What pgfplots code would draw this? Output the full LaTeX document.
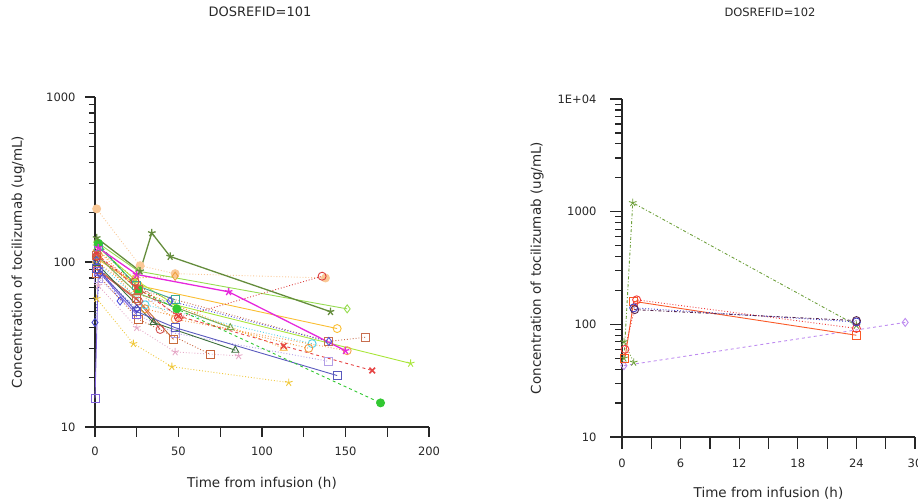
\documentclass[border=0pt]{standalone}
\usepackage{fontspec}
\setmainfont{DejaVu Sans}
\usepackage{pgfplots}
\pgfplotsset{compat=1.18}
\definecolor{txt}{RGB}{40,40,40}
\definecolor{c1}{RGB}{100,140,60}
\definecolor{c2}{RGB}{150,220,80}
\definecolor{c3}{RGB}{240,160,60}
\definecolor{c3b}{RGB}{250,200,150}
\definecolor{c4}{RGB}{220,60,60}
\definecolor{c5}{RGB}{230,40,220}
\definecolor{c6}{RGB}{80,80,220}
\definecolor{c7}{RGB}{200,110,80}
\definecolor{c8}{RGB}{170,230,60}
\definecolor{c9}{RGB}{230,70,70}
\definecolor{c10}{RGB}{90,90,190}
\definecolor{c11}{RGB}{50,200,50}
\definecolor{c12}{RGB}{240,200,60}
\definecolor{c13}{RGB}{200,100,60}
\definecolor{c14}{RGB}{60,110,60}
\definecolor{c15}{RGB}{250,170,40}
\definecolor{c16}{RGB}{240,150,60}
\definecolor{c17}{RGB}{250,190,50}
\definecolor{c18}{RGB}{245,160,80}
\definecolor{c19}{RGB}{130,100,220}
\definecolor{c20}{RGB}{230,170,200}
\definecolor{c21}{RGB}{200,110,60}
\definecolor{c22}{RGB}{210,80,80}
\definecolor{c23}{RGB}{60,170,150}
\definecolor{c24}{RGB}{120,170,80}
\definecolor{c25}{RGB}{80,210,230}
\definecolor{c26}{RGB}{70,70,200}
\definecolor{c27}{RGB}{180,160,230}
\definecolor{r1}{RGB}{110,160,60}
\definecolor{r3}{RGB}{190,140,240}
\definecolor{r4}{RGB}{250,90,40}
\definecolor{r5}{RGB}{240,60,60}
\definecolor{r6}{RGB}{90,40,80}
\definecolor{r7}{RGB}{60,60,200}
\begin{document}
\begin{tikzpicture}[x=1pt,y=1pt]
\useasboundingbox (0,0) rectangle (918,499);
% ---------------- Left panel ----------------
\begin{axis}[
  ymode=log,
  scale only axis, anchor=south west, clip=false,
  axis lines*=left, tick align=outside,
  axis line style={line width=1.6pt, black!85},
  tick style={black!85, line width=1.2pt},
  /pgf/number format/assume math mode=true,
  tick label style={font=\fontsize{11.5}{13}\selectfont, text=txt},
  xticklabel style={yshift=-6pt},
  yticklabel style={xshift=-6pt},
  label style={font=\fontsize{13.5}{15}\selectfont, text=txt},
  every axis plot/.append style={line width=0.9pt, mark size=4pt},
  at={(95pt,72pt)}, width=334pt, height=330pt,
  xmin=0, xmax=200, ymin=10, ymax=1000,
  xtick={0,25,...,200}, xticklabels={0,{},50,{},100,{},150,{},200},
  ytick={10,100,1000}, yticklabels={10,100,1000},
  minor ytick={20,30,40,50,60,70,80,90,200,300,400,500,600,700,800,900},
  major tick length=10pt, minor tick length=6pt,
  xlabel={Time from infusion (h)},
  ylabel={Concentration of tocilizumab (ug/mL)},
  xlabel style={at={(axis description cs:0.5,-0.17)}, anchor=center},
  ylabel style={at={(axis description cs:-0.23,0.5)}, anchor=center},
  title={DOSREFID=101},
  title style={font=\fontsize{13}{15}\selectfont, text=txt, at={(axis description cs:0.494,1.239)}, anchor=center},
]
\addplot[c3b, dotted, mark=*, mark options={solid, fill=c3b, draw=c3b}] coordinates {(1,210) (27,95) (48,85) (138,80)};
\addplot[c27, dotted, mark=square, mark options={solid}] coordinates {(2,80) (25,48) (48,37) (140,25)};
\addplot[c20, dotted, mark=star, mark options={solid}] coordinates {(2,72) (25,40) (48,28.5) (86,27)};
\addplot[c12, dotted, mark=star, mark options={solid}] coordinates {(1,60) (23,32) (46,23.2) (116,18.6)};
\addplot[c25, dotted, mark=o, mark options={solid}] coordinates {(1,100) (30,55) (130,32)};
\addplot[c17, solid, mark=o, mark options={solid}] coordinates {(1,105) (26,72) (145,39.5)};
\addplot[c18, dotted, mark=o, mark options={solid}] coordinates {(1,100) (48,45) (151,29)};
\addplot[c16, dotted, mark=o, mark options={solid}] coordinates {(2,110) (30,52) (128,30)};
\addplot[c15, dotted, mark=triangle, mark options={solid}] coordinates {(1,120) (25,68) (113,30)};
\addplot[c3, dotted, mark=diamond, mark options={solid}] coordinates {(1,118) (24,80) (48,82)};
\addplot[c2, solid, mark=diamond, mark options={solid}] coordinates {(1,132) (26,88) (151,52)};
\addplot[c8, solid, mark=star, mark options={solid}] coordinates {(1,125) (24,78) (48,55) (189,24.3)};
\addplot[c24, solid, mark=triangle, mark options={solid}] coordinates {(1,110) (25,65) (81,40)};
\addplot[c23, solid, mark=square, mark options={solid}] coordinates {(2,125) (25,72) (48,59)};
\addplot[c21, solid, mark=square, mark options={solid}] coordinates {(2,90) (25,60) (47,34)};
\addplot[c13, dotted, mark=square, mark options={solid}] coordinates {(1,85) (26,45) (69,27.6)};
\addplot[c22, solid, mark=o, mark options={solid}] coordinates {(1,90) (26,58) (39,39)};
\addplot[c14, solid, mark=triangle, mark options={solid}] coordinates {(1,98) (35,43) (84,29.2)};
\addplot[c19, solid, mark=square, mark options={solid}] coordinates {(0,14.9) (2,88) (25,48)};
\addplot[c26, dotted, mark=diamond, mark options={solid}] coordinates {(0,43) (3,85) (25,52)};
\addplot[c10, solid, mark=square, mark options={solid}] coordinates {(1,92) (25,50) (48,40) (145,20.5)};
\addplot[c11, dashed, mark=*, mark options={solid, fill=c11}] coordinates {(2,130) (26,68) (49,52) (171,14)};
\addplot[c9, dashed, mark=x, mark options={solid, line width=1.5pt}] coordinates {(1,112) (25,70) (50,47) (113,31) (166,22)};
\addplot[c7, dotted, mark=square, mark options={solid}] coordinates {(1,110) (26,68) (140,33) (162,35)};
\addplot[c6, dotted, mark=diamond, mark options={solid}] coordinates {(1,102) (15,58) (45,58) (140,33)};
\addplot[c4, dotted, mark=o, mark options={solid}] coordinates {(1,108) (24,76) (50,46) (136,82)};
\addplot[c5, solid, line width=1.3pt, mark=star, mark options={solid}] coordinates {(2,122) (25,84) (80,66) (150,29)};
\addplot[c1, solid, line width=1.3pt, mark=star, mark options={solid}] coordinates {(1,140) (27,88) (34,150) (45,108) (141,50)};
\end{axis}
% ---------------- Right panel ----------------
\begin{axis}[
  ymode=log,
  scale only axis, anchor=south west, clip=false,
  axis lines*=left, tick align=outside,
  axis line style={line width=1.6pt, black!85},
  tick style={black!85, line width=1.2pt},
  /pgf/number format/assume math mode=true,
  tick label style={font=\fontsize{11.5}{13}\selectfont, text=txt},
  xticklabel style={yshift=-6pt},
  yticklabel style={xshift=-10pt},
  label style={font=\fontsize{13.5}{15}\selectfont, text=txt},
  every axis plot/.append style={line width=0.9pt, mark size=4pt},
  at={(622pt,62pt)}, width=293pt, height=338pt,
  xmin=0, xmax=30, ymin=10, ymax=10000,
  xtick={0,3,...,30}, xticklabels={0,{},6,{},12,{},18,{},24,{},30},
  ytick={10,100,1000,10000}, yticklabels={10,100,1000,1E+04},
  minor ytick={20,30,40,50,60,70,80,90,200,300,400,500,600,700,800,900,2000,3000,4000,5000,6000,7000,8000,9000},
  major tick length=12pt, minor tick length=7pt,
  xlabel={Time from infusion (h)},
  ylabel={Concentration of tocilizumab (ug/mL)},
  xlabel style={at={(axis description cs:0.5,-0.166)}, anchor=center},
  ylabel style={at={(axis description cs:-0.29,0.5)}, anchor=center},
  title={DOSREFID=102},
  title style={font=\fontsize{11.5}{13}\selectfont, text=txt, at={(axis description cs:0.505,1.24)}, anchor=center},
]
\addplot[r3, dashed, mark=diamond, mark options={solid}] coordinates {(0.2,43) (29,104)};
\addplot[r1, dotted, mark=star, mark options={solid}] coordinates {(0.2,70) (1.2,46)};
\addplot[r1, dashdotted, mark=star, mark options={solid}] coordinates {(0.2,50) (1.1,1200) (24,98)};
\addplot[r4, solid, mark=square, mark options={solid}] coordinates {(0.3,50) (1.2,160) (24,80)};
\addplot[r5, dotted, mark=o, mark options={solid}] coordinates {(0.3,60) (1.5,165) (24,92)};
\addplot[r7, dotted, mark=o, mark options={solid}] coordinates {(1.2,140) (24,105)};
\addplot[r6, dashdotted, mark=o, mark options={solid}] coordinates {(1.3,135) (24,108)};
\end{axis}
\end{tikzpicture}
\end{document}
